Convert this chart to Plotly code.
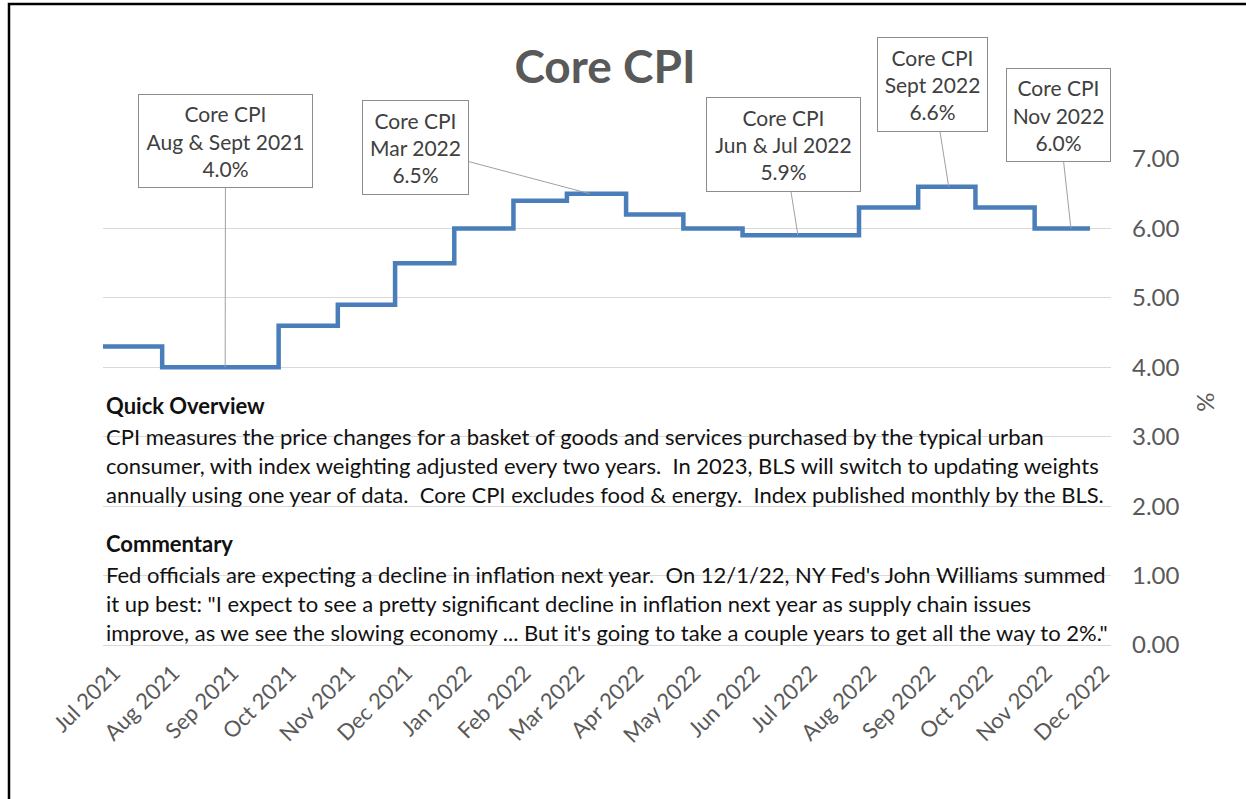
import datetime as dt
import plotly.graph_objects as go

# ---------------- data ----------------
month_starts = ['2021-07-01', '2021-08-01', '2021-09-01', '2021-10-01', '2021-11-01', '2021-12-01',
                '2022-01-01', '2022-02-01', '2022-03-01', '2022-04-01', '2022-05-01', '2022-06-01',
                '2022-07-01', '2022-08-01', '2022-09-01', '2022-10-01', '2022-11-01']
core_cpi = [4.3, 4.0, 4.0, 4.6, 4.9, 5.5, 6.0, 6.4, 6.5, 6.2, 6.0, 5.9, 5.9, 6.3, 6.6, 6.3, 6.0]
series_end = '2022-11-30'

tick_dates = month_starts + ['2022-12-01']
tick_labels = ['Jul 2021', 'Aug 2021', 'Sep 2021', 'Oct 2021', 'Nov 2021', 'Dec 2021',
               'Jan 2022', 'Feb 2022', 'Mar 2022', 'Apr 2022', 'May 2022', 'Jun 2022',
               'Jul 2022', 'Aug 2022', 'Sep 2022', 'Oct 2022', 'Nov 2022', 'Dec 2022']

callout_text = ['Core CPI<br>Aug & Sept 2021<br>4.0%',
                'Core CPI<br>Mar 2022<br>6.5%',
                'Core CPI<br>Jun & Jul 2022<br>5.9%',
                'Core CPI<br>Sept 2022<br>6.6%',
                'Core CPI<br>Nov 2022<br>6.0%']
callout_dates = ['2021-09-03', '2022-03-13', '2022-06-30', '2022-09-17', '2022-11-20']
callout_values = [4.0, 6.5, 5.9, 6.6, 6.0]

overview_title = 'Quick Overview'
overview_lines = [
    'CPI measures the price changes for a basket of goods and services purchased by the typical urban',
    'consumer, with index weighting adjusted every two years.\u00a0 In 2023, BLS will switch to updating weights',
    'annually using one year of data.\u00a0 Core CPI excludes food & energy.\u00a0 Index published monthly by the BLS.',
]
commentary_title = 'Commentary'
commentary_lines = [
    "Fed officials are expecting a decline in inflation next year.\u00a0 On 12/1/22, NY Fed's John Williams summed",
    'it up best: "I expect to see a pretty significant decline in inflation next year as supply chain issues',
    "improve, as we see the slowing economy ... But it's going to take a couple years to get all the way to 2%.\"",
]

# ---------------- layout geometry ----------------
W, H = 1246, 799
L, R, T, B = 103, 1111, 159, 645   # plot area in px
X0 = dt.date(2021, 7, 1)
X1 = dt.date(2022, 12, 11)
Y_MAX = 7.0


def px(x):
    return (x - L) / (R - L)


def py(y):
    return (B - y) / (B - T)


def date_to_px(d):
    days = (dt.date.fromisoformat(d) - X0).days
    return L + days * (R - L) / (X1 - X0).days


def val_to_py(v):
    return B - v * (B - T) / Y_MAX


FONT = 'Lato, Carlito, Calibri, sans-serif'
GRAY = '#595959'

fig = go.Figure()
fig.add_trace(go.Scatter(
    x=month_starts + [series_end],
    y=core_cpi + [core_cpi[-1]],
    mode='lines',
    line=dict(shape='hv', color='#4A7EBB', width=4.5),
    showlegend=False,
    hoverinfo='x+y',
))

annotations = []

# callout boxes: (centre x, centre y, width, height) in px
box_geom = [
    (225.5, 141, 175, 94),
    (415.5, 147.5, 107, 95),
    (783.5, 144.5, 155, 95),
    (932.5, 84.5, 111, 95),
    (1058.5, 115, 105, 94),
]
for txt, d, v, (cx, cy, bw, bh) in zip(callout_text, callout_dates, callout_values, box_geom):
    tip_x = date_to_px(d)
    tip_y = val_to_py(v)
    annotations.append(dict(
        x=d, y=v, xref='x', yref='y', text=txt,
        showarrow=True, arrowhead=0, arrowwidth=1, arrowcolor='#a0a0a0',
        ax=cx - tip_x, ay=cy - tip_y, axref='pixel', ayref='pixel',
        standoff=0, startstandoff=0,
        font=dict(family=FONT, size=21, color='#404040'),
        align='center', bgcolor='white', bordercolor='#8c8c8c', borderwidth=1,
        borderpad=0, width=bw - 2, height=bh - 2, valign='middle',
    ))

# text blocks
text_rows = [(overview_title, 405, True)] + \
            [(t, y, False) for t, y in zip(overview_lines, [436, 465, 494])] + \
            [(commentary_title, 543, True)] + \
            [(t, y, False) for t, y in zip(commentary_lines, [574, 603, 632])]
for t, y, bold in text_rows:
    annotations.append(dict(
        x=px(104), y=py(y), xref='paper', yref='paper', xanchor='left', yanchor='middle',
        text=f'<b>{t}</b>' if bold else t, showarrow=False,
        font=dict(family=FONT, size=22, color='#111111'),
    ))

fig.update_layout(
    width=W, height=H,
    margin=dict(l=L, r=W - R, t=T, b=H - B, autoexpand=False),
    paper_bgcolor='white', plot_bgcolor='white',
    title=dict(text='<b>Core CPI</b>', x=605 / W, xref='container', xanchor='center',
               y=1 - 67 / H, yref='container', yanchor='middle',
               font=dict(family=FONT, size=46, color=GRAY)),
    annotations=annotations,
    shapes=[dict(type='rect', xref='paper', yref='paper',
                 x0=px(9), x1=px(1262), y0=py(812), y1=py(4),
                 line=dict(color='black', width=2.5), fillcolor='rgba(0,0,0,0)', layer='above')],
    showlegend=False,
)

fig.update_xaxes(
    type='date', range=[X0.isoformat(), X1.isoformat()],
    tickmode='array', tickvals=tick_dates, ticktext=tick_labels,
    tickangle=-45, ticklabelshift=11, ticklabelstandoff=10,
    tickfont=dict(family=FONT, size=22, color=GRAY),
    showgrid=False, showline=False, zeroline=False, ticks='',
)
fig.update_yaxes(
    side='right', range=[0, Y_MAX], dtick=1, tickformat='.2f',
    tickfont=dict(family=FONT, size=24, color=GRAY),
    ticklabelstandoff=20,
    showgrid=True, gridcolor='#d9d9d9', gridwidth=1,
    zeroline=True, zerolinecolor='#d9d9d9', zerolinewidth=1,
    showline=False, ticks='',
    title=dict(text='%', font=dict(family=FONT, size=24, color=GRAY), standoff=18),
)

fig.write_html('out.html', config={'displayModeBar': False},
               post_script="document.body.style.margin='0';")
